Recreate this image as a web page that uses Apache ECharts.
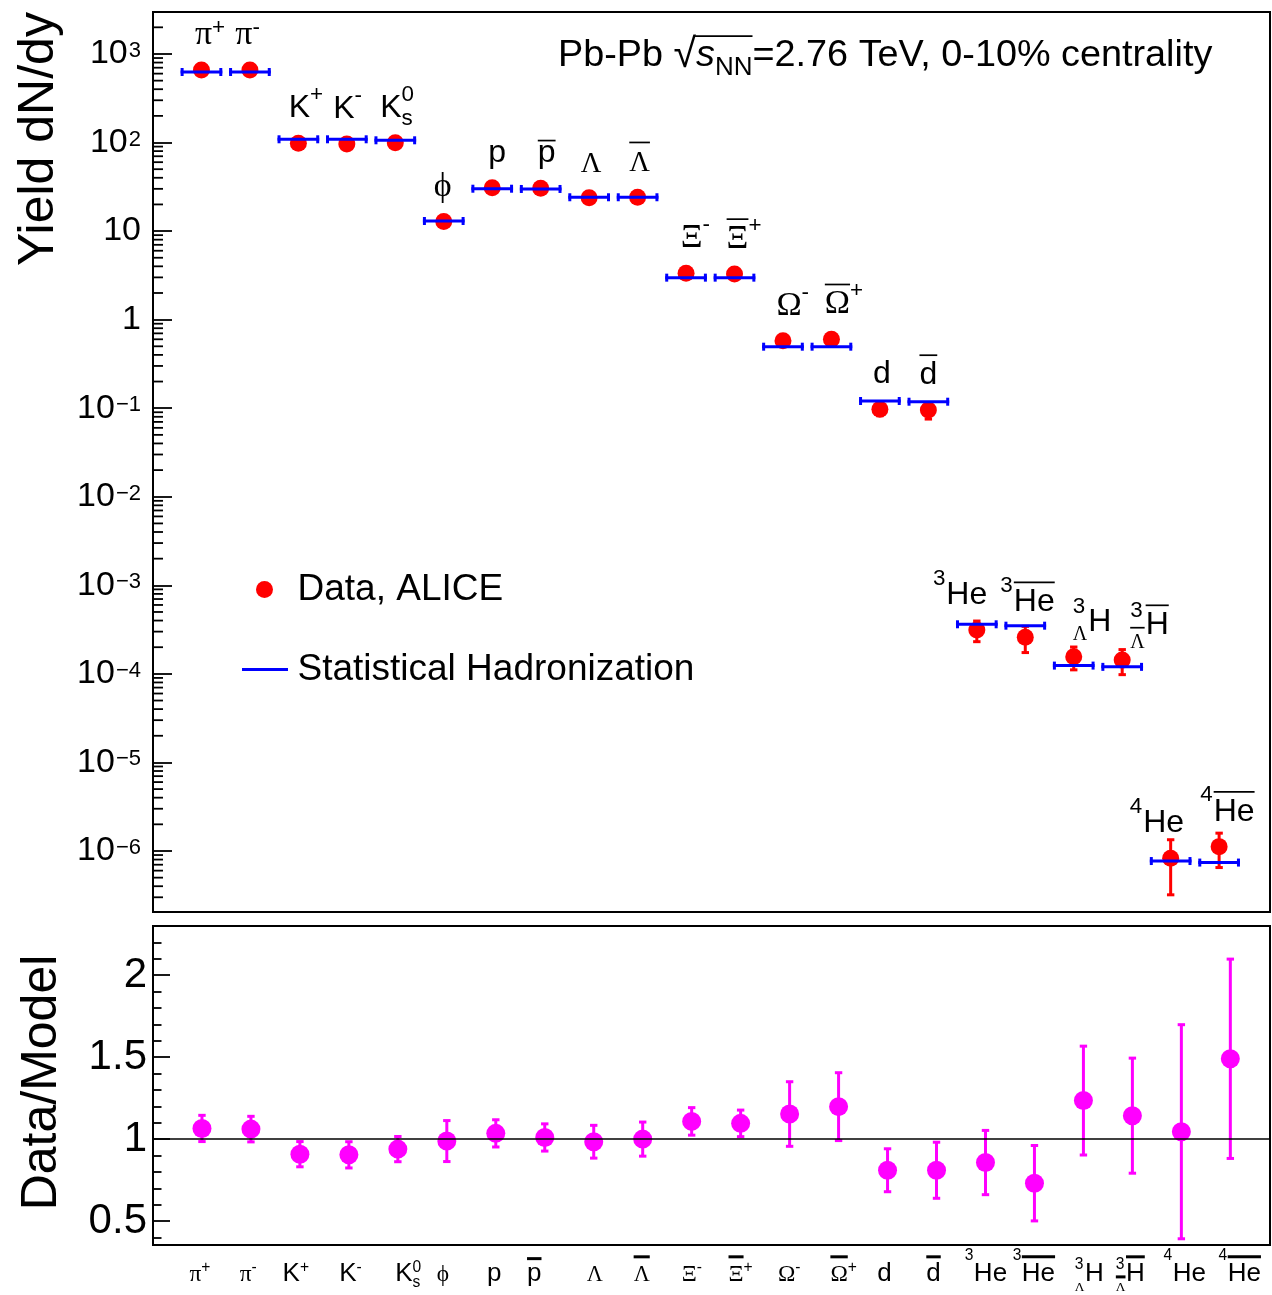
<!DOCTYPE html>
<html>
<head>
<meta charset="utf-8">
<script src="https://cdn.jsdelivr.net/npm/echarts@6/dist/echarts.min.js"></script>
<style>
html,body{margin:0;padding:0;background:#fff;}
#chart{width:1272px;height:1295px;}
</style>
</head>
<body>
<div id="chart"></div>
<script>
// ---------------- data ----------------
const particles = ['π+','π-','K+','K-','K0s','ϕ','p','p̄','Λ','Λ̄','Ξ-','Ξ̄+','Ω-','Ω̄+','d','d̄','3He','3He̅','3ΛH','3Λ̄H̄','4He','4He̅'];
const particleLatex = ['#pi^{+}','#pi^{-}','K^{+}','K^{-}','K^{0}_{s}','#phi','p','#bar{p}','#Lambda','#bar{#Lambda}',
  '#Xi^{-}','#bar{#Xi}^{+}','#Omega^{-}','#bar{#Omega}^{+}','d','#bar{d}','^{3}He','^{3}#bar{He}',
  '^{3}_{#Lambda}H','^{3}_{#bar{#Lambda}}#bar{H}','^{4}He','^{4}#bar{He}'];
const yieldData  = [659.6, 659.6, 98.1, 96.4, 99.6, 12.8, 30.9, 30.4, 23.8, 24.1, 3.34, 3.28, 0.578, 0.600,
  0.0972, 0.0954, 3.13e-4, 2.59e-4, 1.56e-4, 1.43e-4, 8.3e-7, 1.12e-6];
const yieldErr   = [45, 45, 8, 8, 7, 1.3, 2.2, 2.2, 2.0, 2.0, 0.22, 0.22, 0.06, 0.06,
  0.015, 0.02, 0.82e-4, 0.85e-4, 0.45e-4, 0.45e-4, 5.1e-7, 0.47e-6];
const yieldModel = [626, 626, 108.8, 108.8, 106, 13.0, 30.1, 29.9, 24.1, 24.1, 2.98, 2.98, 0.495, 0.495,
  0.1206, 0.1184, 3.63e-4, 3.50e-4, 1.24e-4, 1.20e-4, 7.7e-7, 7.4e-7];
const ratioData = [1.065, 1.061, 0.908, 0.904, 0.939, 0.988, 1.035, 1.010, 0.984, 1.000, 1.108, 1.096,
  1.153, 1.198, 0.810, 0.810, 0.857, 0.731, 1.235, 1.143, 1.045, 1.490];
const ratioErr  = [0.080, 0.078, 0.077, 0.080, 0.077, 0.125, 0.083, 0.083, 0.100, 0.104, 0.084, 0.081,
  0.197, 0.207, 0.131, 0.171, 0.196, 0.230, 0.332, 0.351, 0.653, 0.608];
const yieldTickExponents = [-6, -5, -4, -3, -2, -1, 0, 1, 2, 3];
const ratioTicks = [0.5, 1, 1.5, 2];
// horizontal nudges of the particle names (px), as placed in the original figure
const topLabelShift    = [2, -6, 1, -3, -4.5, -1, 5, 6, 2, 2, 5.5, 3, 6, 6, 2, 0, -10, 9, 26, 35, -7, 15];
const bottomLabelShift = [-6.6, -5.4, -8.7, -1, 6, -4, -1.6, -10.5, 1, -1, -2.4, -4.6, -3, 0.5, -3, -3, 5, 4, 11, 3, 8, 14];

// ---------------- layout constants ----------------
const SANS = '"Liberation Sans", Arial, Helvetica, sans-serif';
const SERIF = '"Liberation Serif", "Times New Roman", Times, serif';
const LOG_MIN = -6.689, LOG_MAX = 3.474;
const TOP_X_MAX = 23.05, BOT_X_MAX = 22.81;
const RATIO_MIN = 0.354, RATIO_MAX = 2.30;
const GRID_L = 153, GRID_W = 1117;

// ---------------- tiny TLatex-like text builder ----------------
const GREEK = {pi: 'π', Lambda: 'Λ', Xi: 'Ξ', Omega: 'Ω', phi: 'ϕ'};
const mctx = document.createElement('canvas').getContext('2d');
const midCache = {};
function fontStr(size, family, italic) { return (italic ? 'italic ' : '') + size.toFixed(2) + 'px ' + family; }
function textW(t, font) { mctx.font = font; return mctx.measureText(t).width; }
function midOff(font, size) {
  if (midCache[font] != null) return midCache[font];
  mctx.font = font;
  mctx.textBaseline = 'alphabetic';
  const a = mctx.measureText('Hg').fontBoundingBoxAscent;
  mctx.textBaseline = 'middle';
  const b = mctx.measureText('Hg').fontBoundingBoxAscent;
  mctx.textBaseline = 'alphabetic';
  const v = (a != null && b != null && isFinite(a - b)) ? (a - b) : 0.35 * size;
  midCache[font] = v;
  return v;
}
function readGroup(s, i) {
  let depth = 0, j = i;
  for (; j < s.length; j++) {
    if (s[j] === '{') depth++;
    else if (s[j] === '}') { depth--; if (depth === 0) break; }
  }
  return {content: s.slice(i + 1, j), end: j + 1};
}
function parseLatex(src) {
  const segs = [];
  function push(seg, t, greek, bar) {
    let target = seg;
    if (!target) {
      const last = segs[segs.length - 1];
      if (last && last.lvl === 0) target = last;
      else { target = {lvl: 0, runs: []}; segs.push(target); }
    }
    const lr = target.runs[target.runs.length - 1];
    if (lr && lr.greek === greek && lr.bar === bar && !greek) lr.t += t;
    else target.runs.push({t, greek, bar});
  }
  function walk(str, seg, bar) {
    let i = 0;
    while (i < str.length) {
      const c = str[i];
      if ((c === '^' || c === '_') && str[i + 1] === '{') {
        const g = readGroup(str, i + 1);
        const s2 = {lvl: c === '^' ? 1 : -1, runs: []};
        segs.push(s2);
        walk(g.content, s2, bar);
        i = g.end;
      } else if (str.startsWith('#bar{', i)) {
        const g = readGroup(str, i + 4);
        walk(g.content, seg, true);
        i = g.end;
      } else if (c === '#') {
        const m = /^#([A-Za-z]+)/.exec(str.slice(i));
        push(seg, GREEK[m[1]] || m[1], true, bar);
        i += m[0].length;
      } else {
        push(seg, c, false, bar);
        i++;
      }
    }
  }
  walk(src, null, false);
  return segs;
}
const TALL = /[A-Zbdfhklt0-9ΛΞΩϕ+]/;
function layoutLatex(src, st) {
  const segs = parseLatex(src);
  const items = [];
  let x = 0, anchor = null, prev = null, prevX = 0, seenBase = false, lastBaseTall = true;
  segs.forEach((seg, si) => {
    const isScript = seg.lvl !== 0;
    const isPre = isScript && !seenBase;
    const next = segs[si + 1];
    let sx = x;
    if (isScript && prev && prev.lvl === -seg.lvl && !prev.stacked) { sx = prevX; seg.stacked = true; }
    const pairedPre = isPre && (seg.stacked || (next && next.lvl === -seg.lvl));
    const hasBar = seg.runs.some(r => r.bar);
    let dy = 0;
    if (seg.lvl === 1) {
      if (isPre) dy = -(pairedPre ? st.stackRaise : st.preRaise) * st.fs;
      else dy = -(lastBaseTall ? st.raiseTall : st.raiseShort) * st.fs;
    } else if (seg.lvl === -1) {
      if (isPre) dy = (st.stackLower + (hasBar ? st.barSubExtra : 0)) * st.fs;
      else dy = st.lower * st.fs;
    }
    const baseFs = isScript ? st.fs * st.scriptScale : st.fs;
    let cx = sx;
    seg.runs.forEach(r => {
      let fs = baseFs, family = SANS;
      if (r.greek) { family = SERIF; fs = baseFs * st.greekScale * (r.t === 'Λ' ? st.lambdaScale : 1); }
      const font = fontStr(fs, family, false);
      const w = textW(r.t, font);
      items.push({t: r.t, x: cx, w, dy, fs, family, mid: midOff(font, fs), bar: r.bar,
        tall: TALL.test(r.t), refFs: baseFs});
      cx += w;
    });
    if (!isScript) {
      if (anchor === null) anchor = (sx + cx) / 2;
      seenBase = true;
      const lr = seg.runs[seg.runs.length - 1];
      lastBaseTall = TALL.test(lr.t.slice(-1));
    }
    x = seg.stacked ? Math.max(x, cx) : cx;
    if (isScript) x += st.scriptGap;
    prev = seg; prevX = sx;
  });
  if (anchor === null) anchor = x / 2;
  const bars = [];
  let cur = null;
  items.forEach(it => {
    if (it.bar) {
      if (cur && cur.dy === it.dy && Math.abs(cur.x2 - it.x) < 0.5) {
        cur.x2 = it.x + it.w; cur.tall = cur.tall || it.tall;
      } else {
        cur = {x1: it.x, x2: it.x + it.w, dy: it.dy, tall: it.tall, fs: it.refFs};
        bars.push(cur);
      }
    } else cur = null;
  });
  bars.forEach(b => { b.y = b.dy - (b.tall ? st.barTall : st.barShort) * b.fs; });
  return {items, bars, anchor};
}
function latexGroup(src, st, anchorX, baseY) {
  const lay = layoutLatex(src, st);
  const x0 = anchorX - lay.anchor;
  const children = lay.items.map(it => ({
    type: 'text', x: x0 + it.x, y: baseY + it.dy - it.mid, silent: true,
    style: {text: it.t, fontSize: it.fs, fontFamily: it.family, fill: '#000', align: 'left', verticalAlign: 'middle'}
  }));
  lay.bars.forEach(b => children.push({
    type: 'line', silent: true,
    shape: {x1: x0 + b.x1, y1: baseY + b.y, x2: x0 + b.x2, y2: baseY + b.y},
    style: {stroke: '#000', lineWidth: st.barWidth}
  }));
  return {type: 'group', children};
}
const TOP_LBL = {fs: 32, scriptScale: 0.7, greekScale: 1.06, lambdaScale: 0.84,
  raiseTall: 0.5, raiseShort: 0.32, preRaise: 0.6, stackRaise: 0.55, lower: 0.27, stackLower: 0.28, barSubExtra: 0.15,
  barTall: 0.9, barShort: 0.68, barWidth: 1.7, scriptGap: 1};
const BOT_LBL = {fs: 26, scriptScale: 0.6, greekScale: 0.9, lambdaScale: 0.95,
  raiseTall: 0.36, raiseShort: 0.36, preRaise: 0.8, stackRaise: 0.47, lower: 0.23, stackLower: 0.4, barSubExtra: 0,
  barTall: 0.93, barShort: 0.86, barWidth: 3, scriptGap: 0.5};

// ---------------- series data built from the arrays ----------------
const idx = particles.map((_, k) => k + 1);
const logPts = idx.map((x, k) => [x, Math.log10(yieldData[k])]);
const logErr = idx.map((x, k) => [x, Math.log10(yieldData[k] - yieldErr[k]), Math.log10(yieldData[k] + yieldErr[k])]);
const logModel = idx.map((x, k) => [x, Math.log10(yieldModel[k])]);
const ratioPts = idx.map((x, k) => [x, ratioData[k]]);
const ratioErrPts = idx.map((x, k) => [x, ratioData[k] - ratioErr[k], ratioData[k] + ratioErr[k]]);
const bottomLabelPts = idx.map(x => [x, RATIO_MIN]);
// log-axis minor tick positions (2..9 x 10^n)
const minorMult = [2, 3, 4, 5, 6, 7, 8, 9];
const minorPts = [];
for (let n = Math.floor(LOG_MIN); n < Math.ceil(LOG_MAX); n++) {
  minorMult.forEach(m => { const v = n + Math.log10(m); if (v > LOG_MIN && v < LOG_MAX) minorPts.push([0, v]); });
}

function errBarItem(api, color, capHalf, lw) {
  const lo = api.coord([api.value(0), api.value(1)]);
  const hi = api.coord([api.value(0), api.value(2)]);
  const st = {stroke: color, lineWidth: lw};
  return {type: 'group', children: [
    {type: 'line', shape: {x1: lo[0], y1: lo[1], x2: hi[0], y2: hi[1]}, style: st},
    {type: 'line', shape: {x1: lo[0] - capHalf, y1: lo[1], x2: lo[0] + capHalf, y2: lo[1]}, style: st},
    {type: 'line', shape: {x1: hi[0] - capHalf, y1: hi[1], x2: hi[0] + capHalf, y2: hi[1]}, style: st}
  ]};
}

const chart = echarts.init(document.getElementById('chart'), null, {renderer: 'canvas'});

// sqrt overline position measured from the title fonts
const TITLE_LEFT = 558, TITLE_BASE = 68.3, TITLE_FS = 37.8;
const fA = fontStr(TITLE_FS, SANS), fR = fontStr(41, SANS), fI = fontStr(TITLE_FS, SANS, true), fN = fontStr(26, SANS);
mctx.font = fR;
const rm = mctx.measureText('√');
const sqrtX1 = TITLE_LEFT + textW('Pb-Pb ', fA) + (rm.actualBoundingBoxRight || rm.width) - 1.5;
const sqrtX2 = TITLE_LEFT + textW('Pb-Pb ', fA) + rm.width + textW('s', fI) + textW('NN', fN);
const sqrtY = TITLE_BASE - (rm.actualBoundingBoxAscent || 33) + 0.8;

const option = {
  animation: false,
  backgroundColor: '#fff',
  textStyle: {fontFamily: SANS, color: '#000'},
  title: {
    text: '{a|Pb-Pb }{r|√}{i|s}{n|NN}{a|=2.76 TeV, 0-10% centrality}',
    left: TITLE_LEFT, top: TITLE_BASE - 39, padding: 0,
    textStyle: {
      fontWeight: 'normal',
      rich: {
        a: {fontSize: TITLE_FS, fontFamily: SANS, fontWeight: 'normal', color: '#000', lineHeight: 52},
        r: {fontSize: 41, fontFamily: SANS, fontWeight: 'normal', color: '#000', lineHeight: 52},
        i: {fontSize: TITLE_FS, fontFamily: SANS, fontWeight: 'normal', fontStyle: 'italic', color: '#000', lineHeight: 52},
        n: {fontSize: 26, fontFamily: SANS, fontWeight: 'normal', color: '#000', lineHeight: 20, verticalAlign: 'bottom'}
      }
    }
  },
  graphic: [{
    type: 'line', silent: true,
    shape: {x1: sqrtX1, y1: sqrtY, x2: sqrtX2, y2: sqrtY},
    style: {stroke: '#000', lineWidth: 1.6}
  }],
  legend: [
    {
      data: ['Data, ALICE'], left: 256, top: 571, padding: 0, orient: 'vertical',
      itemWidth: 17, itemHeight: 17, icon: 'circle', selectedMode: false,
      formatter: '{t|{name}}',
      textStyle: {rich: {t: {fontSize: 37, fontFamily: SANS, color: '#000', lineHeight: 40, padding: [0, 0, 0, 19.5]}}}
    },
    {
      data: [{name: 'Statistical Hadronization', icon: 'rect'}], left: 242, top: 651, padding: 0, orient: 'vertical',
      itemWidth: 46, itemHeight: 3, selectedMode: false,
      formatter: '{t|{name}}',
      textStyle: {rich: {t: {fontSize: 37, fontFamily: SANS, color: '#000', lineHeight: 40, padding: [0, 0, 0, 4.5]}}}
    }
  ],
  grid: [
    {left: GRID_L, top: 12, width: GRID_W, height: 900, show: true, borderColor: '#000', borderWidth: 2,
      backgroundColor: 'transparent', containLabel: false, outerBoundsMode: 'none'},
    {left: GRID_L, top: 926, width: GRID_W, height: 319, show: true, borderColor: '#000', borderWidth: 2,
      backgroundColor: 'transparent', containLabel: false, outerBoundsMode: 'none'}
  ],
  xAxis: [
    {type: 'value', gridIndex: 0, min: 0, max: TOP_X_MAX, show: false, splitLine: {show: false}},
    {type: 'value', gridIndex: 1, min: 0, max: BOT_X_MAX, show: false, splitLine: {show: false}}
  ],
  yAxis: [
    {
      type: 'value', gridIndex: 0, min: LOG_MIN, max: LOG_MAX, splitNumber: 10,
      name: 'Yield dN/dy', nameLocation: 'middle', nameRotate: 90, nameGap: 89,
      nameTextStyle: {fontSize: 50, fontFamily: SANS, color: '#000', lineHeight: 50, padding: [0, 0, 0, 646]},
      axisLine: {show: false},
      axisTick: {show: true, inside: true, length: 19, lineStyle: {color: '#000', width: 1.8}},
      splitLine: {show: false},
      axisLabel: {
        margin: 12, color: '#000',
        formatter: function (v) {
          const n = Math.round(v);
          if (Math.abs(v - n) > 1e-6 || yieldTickExponents.indexOf(n) < 0) return '';
          if (n === 0) return '{p|1}';
          if (n === 1) return '{p|10}';
          return '{m|10}{s|' + (n < 0 ? '\u2212' + (-n) : String(n)) + '}';
        },
        rich: {
          p: {fontSize: 34, fontFamily: SANS, color: '#000', lineHeight: 34},
          m: {fontSize: 34, fontFamily: SANS, color: '#000', lineHeight: 34, padding: [10, 0, 0, 0], verticalAlign: 'bottom'},
          s: {fontSize: 22, fontFamily: SANS, color: '#000', lineHeight: 22, padding: [3, 0, 0, 1], verticalAlign: 'top'}
        }
      }
    },
    {
      type: 'value', gridIndex: 1, min: RATIO_MIN, max: RATIO_MAX, splitNumber: 4,
      name: 'Data/Model', nameLocation: 'middle', nameRotate: 90, nameGap: 86,
      nameTextStyle: {fontSize: 50, fontFamily: SANS, color: '#000', lineHeight: 50, padding: [0, 0, 0, 6]},
      axisLine: {show: false},
      axisTick: {show: true, inside: true, length: 17, lineStyle: {color: '#000', width: 1.8}},
      minorTick: {show: true, splitNumber: 5, length: 8.5, lineStyle: {color: '#000', width: 1.8}},
      splitLine: {show: false},
      axisLabel: {
        margin: 6, fontSize: 42, fontFamily: SANS, color: '#000',
        formatter: function (v) {
          return ratioTicks.some(t => Math.abs(t - v) < 1e-6) ? String(v) : '';
        }
      }
    }
  ],
  series: [
    {
      name: 'minor ticks', type: 'custom', xAxisIndex: 0, yAxisIndex: 0, silent: true, z: 1,
      data: minorPts,
      renderItem: function (params, api) {
        const p = api.coord([api.value(0), api.value(1)]);
        return {type: 'line', shape: {x1: p[0], y1: p[1], x2: p[0] + 10, y2: p[1]},
          style: {stroke: '#000', lineWidth: 1.8}};
      }
    },
    {
      name: 'Data, ALICE errors', type: 'custom', xAxisIndex: 0, yAxisIndex: 0, silent: true, z: 2,
      data: logErr,
      renderItem: function (params, api) { return errBarItem(api, '#ff0000', 3.7, 3); }
    },
    {
      name: 'Data, ALICE', type: 'scatter', xAxisIndex: 0, yAxisIndex: 0, z: 3,
      symbol: 'circle', symbolSize: 17, itemStyle: {color: '#ff0000', opacity: 1},
      data: logPts
    },
    {
      name: 'Statistical Hadronization', type: 'custom', xAxisIndex: 0, yAxisIndex: 0, z: 4,
      itemStyle: {color: '#0000ff'},
      data: logModel,
      renderItem: function (params, api) {
        const x = api.value(0), y = api.value(1);
        const a = api.coord([x - 0.43, y]), b = api.coord([x + 0.43, y]);
        const st = {stroke: '#0000ff', lineWidth: 3};
        return {type: 'group', children: [
          {type: 'line', shape: {x1: a[0], y1: a[1], x2: b[0], y2: b[1]}, style: st},
          {type: 'line', shape: {x1: a[0] + 1.5, y1: a[1] - 4, x2: a[0] + 1.5, y2: a[1] + 4}, style: st},
          {type: 'line', shape: {x1: b[0] - 1.5, y1: b[1] - 4, x2: b[0] - 1.5, y2: b[1] + 4}, style: st}
        ]};
      }
    },
    {
      name: 'particle names', type: 'custom', xAxisIndex: 0, yAxisIndex: 0, silent: true, clip: false, z: 5,
      data: logPts,
      renderItem: function (params, api) {
        const k = params.dataIndex;
        const p = api.coord([api.value(0), api.value(1)]);
        return latexGroup(particleLatex[k], TOP_LBL, p[0] + topLabelShift[k], p[1] - 26);
      }
    },
    {
      name: 'ratio errors', type: 'custom', xAxisIndex: 1, yAxisIndex: 1, silent: true, z: 2,
      data: ratioErrPts,
      renderItem: function (params, api) { return errBarItem(api, '#ff00ff', 3.7, 3); },
      markLine: {
        silent: true, symbol: 'none', label: {show: false},
        lineStyle: {color: '#000', width: 1.5, type: 'solid'},
        data: [{yAxis: 1}]
      }
    },
    {
      name: 'Data/Model', type: 'scatter', xAxisIndex: 1, yAxisIndex: 1, z: 3,
      symbol: 'circle', symbolSize: 19, itemStyle: {color: '#ff00ff', opacity: 1},
      data: ratioPts
    },
    {
      name: 'axis particle names', type: 'custom', xAxisIndex: 1, yAxisIndex: 1, silent: true, clip: false, z: 5,
      data: bottomLabelPts,
      renderItem: function (params, api) {
        const k = params.dataIndex;
        const p = api.coord([api.value(0), api.value(1)]);
        return latexGroup(particleLatex[k], BOT_LBL, p[0] + bottomLabelShift[k], p[1] + 36);
      }
    }
  ]
};
chart.setOption(option);
</script>
</body>
</html>
